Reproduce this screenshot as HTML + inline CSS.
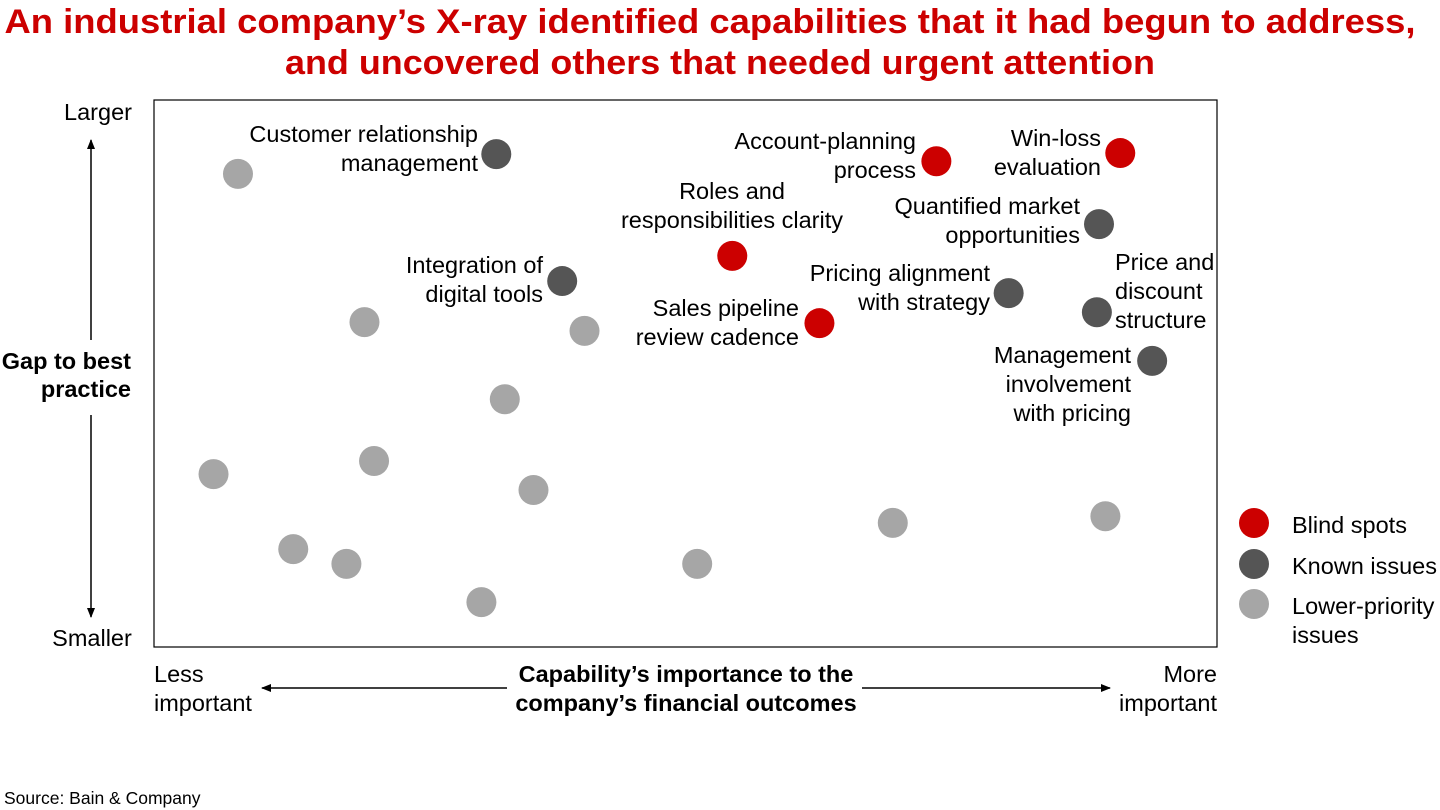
<!DOCTYPE html>
<html><head><meta charset="utf-8"><style>
html,body{margin:0;padding:0;background:#fff;}
svg{display:block;font-family:"Liberation Sans",Arial,sans-serif;}
</style></head><body>
<svg id="chart" width="1440" height="810" viewBox="0 0 1440 810">
<defs>
<marker id="ah" markerWidth="10" markerHeight="10" refX="9" refY="5" orient="auto-start-reverse" markerUnits="userSpaceOnUse"><path d="M0,1 L10,5 L0,9 Z" fill="#000"/></marker>
</defs>
<text x="710" y="33" text-anchor="middle" font-size="34" font-weight="bold" fill="#cc0000" textLength="1411" lengthAdjust="spacingAndGlyphs">An industrial company’s X-ray identified capabilities that it had begun to address,</text>
<text x="720" y="74" text-anchor="middle" font-size="34" font-weight="bold" fill="#cc0000" textLength="870" lengthAdjust="spacingAndGlyphs">and uncovered others that needed urgent attention</text>
<rect x="154" y="100" width="1063" height="547" fill="none" stroke="#000" stroke-width="1.2"/>
<g font-size="23.5" fill="#000">
<text x="98" y="120" text-anchor="middle">Larger</text>
<text x="92" y="646" text-anchor="middle">Smaller</text>
<text x="131" y="369" text-anchor="end" font-weight="bold">Gap to best</text>
<text x="131" y="397" text-anchor="end" font-weight="bold">practice</text>
<line x1="91" y1="340" x2="91" y2="140" stroke="#000" stroke-width="1.5" marker-end="url(#ah)"/>
<line x1="91" y1="415" x2="91" y2="617" stroke="#000" stroke-width="1.5" marker-end="url(#ah)"/>
<text x="154" y="682">Less</text>
<text x="154" y="711">important</text>
<text x="1217" y="682" text-anchor="end">More</text>
<text x="1217" y="711" text-anchor="end">important</text>
<text x="686" y="682" text-anchor="middle" font-weight="bold">Capability’s importance to the</text>
<text x="686" y="711" text-anchor="middle" font-weight="bold">company’s financial outcomes</text>
<line x1="507" y1="688" x2="262" y2="688" stroke="#000" stroke-width="1.5" marker-end="url(#ah)"/>
<line x1="862" y1="688" x2="1110" y2="688" stroke="#000" stroke-width="1.5" marker-end="url(#ah)"/>
</g>
<g id="points"></g>
<g id="labels" font-size="23.5" fill="#000">
<text x="478" y="142" text-anchor="end"><tspan x="478">Customer relationship</tspan><tspan x="478" dy="29">management</tspan></text>
<text x="916" y="149" text-anchor="end"><tspan x="916">Account-planning</tspan><tspan x="916" dy="29">process</tspan></text>
<text x="1101" y="146" text-anchor="end"><tspan x="1101">Win-loss</tspan><tspan x="1101" dy="29">evaluation</tspan></text>
<text x="732" y="199" text-anchor="middle"><tspan x="732">Roles and</tspan><tspan x="732" dy="29">responsibilities clarity</tspan></text>
<text x="1080" y="214" text-anchor="end"><tspan x="1080">Quantified market</tspan><tspan x="1080" dy="29">opportunities</tspan></text>
<text x="543" y="273" text-anchor="end"><tspan x="543">Integration of</tspan><tspan x="543" dy="29">digital tools</tspan></text>
<text x="990" y="281" text-anchor="end"><tspan x="990">Pricing alignment</tspan><tspan x="990" dy="29">with strategy</tspan></text>
<text x="1115" y="270"><tspan x="1115">Price and</tspan><tspan x="1115" dy="29">discount</tspan><tspan x="1115" dy="29">structure</tspan></text>
<text x="799" y="316" text-anchor="end"><tspan x="799">Sales pipeline</tspan><tspan x="799" dy="29">review cadence</tspan></text>
<text x="1131" y="363" text-anchor="end"><tspan x="1131">Management</tspan><tspan x="1131" dy="29">involvement</tspan><tspan x="1131" dy="29">with pricing</tspan></text>
</g>
<g font-size="23.5" fill="#000">
<circle cx="1254" cy="523" r="15" fill="#cc0000"/>
<text x="1292" y="533">Blind spots</text>
<circle cx="1254" cy="564" r="15" fill="#555555"/>
<text x="1292" y="574">Known issues</text>
<circle cx="1254" cy="604" r="15" fill="#a6a6a6"/>
<text x="1292" y="614"><tspan x="1292">Lower-priority</tspan><tspan x="1292" dy="29">issues</tspan></text>
</g>
<text x="4" y="804" font-size="17.5" fill="#000">Source: Bain &amp; Company</text>
</svg>
<script>
const lowerX=[7.9,19.8,40.5,33.0,5.6,20.7,35.7,13.1,18.1,30.8,51.1,69.5,89.5];
const lowerY=[86.5,59.4,57.8,45.3,31.6,34.0,28.7,17.9,15.2,8.2,15.2,22.7,23.9];
const knownX=[32.2,38.4,80.4,88.7,93.9,88.9];
const knownY=[90.1,66.9,64.7,61.2,52.3,77.3];
const blindX=[73.6,90.9,54.4,62.6];
const blindY=[88.8,90.3,71.5,59.2];
const xs=v=>154+v/100*1063;
const ys=v=>647-v/100*547;
const g=document.getElementById('points');
function draw(X,Y,color,name){
  for(let i=0;i<X.length;i++){
    const c=document.createElementNS('http://www.w3.org/2000/svg','circle');
    c.setAttribute('cx',xs(X[i]));c.setAttribute('cy',ys(Y[i]));
    c.setAttribute('r',15);c.setAttribute('fill',color);
    
    
    g.appendChild(c);
  }
}
draw(lowerX,lowerY,'#a6a6a6','lower-priority');
draw(knownX,knownY,'#555555','known-issue');
draw(blindX,blindY,'#cc0000','blind-spot');
</script>
</body></html>
